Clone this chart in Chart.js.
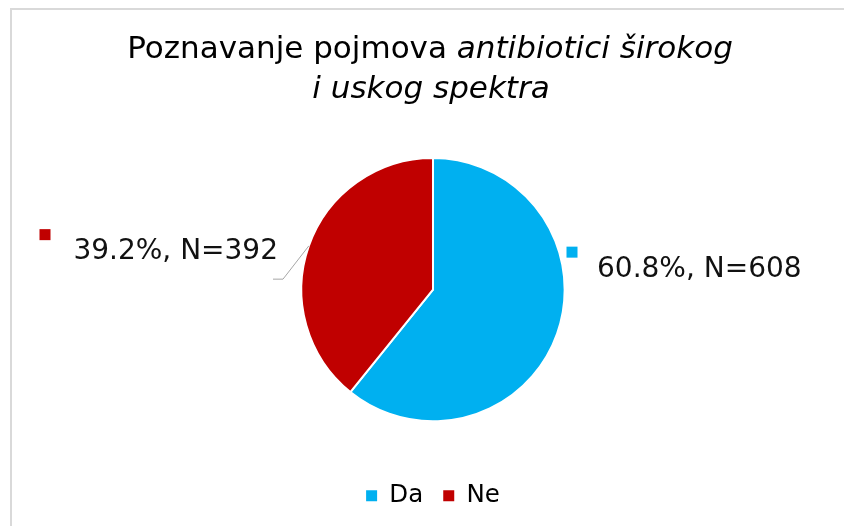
<!DOCTYPE html>
<html><head><meta charset="utf-8">
<script src="https://cdn.jsdelivr.net/npm/chart.js@4"></script>
<style>html,body{margin:0;padding:0;background:#fff}#wrap{width:844px;height:526px;position:relative}</style>
</head><body><div id="wrap"><canvas id="c"></canvas></div>
<script>
const categories = ['Da', 'Ne'];
const counts = [608, 392];
const percents = [60.8, 39.2];
const colors = ['#00B0F0', '#C00000'];
const titleRegular = 'Poznavanje pojmova ';
const titleItalic1 = 'antibiotici širokog';
const titleItalic2 = 'i uskog spektra';

const FONT = '"DejaVu Sans", Verdana, sans-serif';

// label placement relative to the pie centre (style only)
const labelLayout = [
  { marker: [139, -37.5], text: [164, -20], align: 'left' },
  { marker: [-388, -55], text: [-155, -38], align: 'right', leader: [[-160, -11], [-150, -11]] }
];

const framePlugin = {
  id: 'frame',
  beforeDraw(chart) {
    const c = chart.ctx;
    c.save();
    c.strokeStyle = '#d9d9d9';
    c.lineWidth = 2;
    c.strokeRect(11, 9, chart.width + 40, chart.height + 40);
    c.restore();
  }
};

const titlePlugin = {
  id: 'richTitle',
  afterDraw(chart) {
    const c = chart.ctx;
    c.save();
    c.fillStyle = '#000';
    c.textBaseline = 'alphabetic';
    c.textAlign = 'left';
    const reg = '31px ' + FONT;
    const ita = 'italic 31px ' + FONT;
    c.font = reg; const w1 = c.measureText(titleRegular).width;
    c.font = ita; const w2 = c.measureText(titleItalic1).width;
    const cx = 430;
    let x = cx - (w1 + w2) / 2;
    c.font = reg; c.fillText(titleRegular, x, 58);
    c.font = ita; c.fillText(titleItalic1, x + w1, 58);
    const w3 = c.measureText(titleItalic2).width;
    c.fillText(titleItalic2, 431 - w3 / 2, 98);
    c.restore();
  }
};

const labelPlugin = {
  id: 'sliceLabels',
  afterDatasetsDraw(chart) {
    const c = chart.ctx;
    const meta = chart.getDatasetMeta(0);
    meta.data.forEach((arc, i) => {
      const p = arc.getProps(['x', 'y', 'outerRadius', 'startAngle', 'endAngle'], true);
      const L = labelLayout[i];
      c.save();
      if (L.leader) {
        const mid = (p.startAngle + p.endAngle) / 2;
        c.strokeStyle = '#a6a6a6';
        c.lineWidth = 1;
        c.beginPath();
        c.moveTo(p.x + L.leader[0][0], p.y + L.leader[0][1] + 0.5);
        c.lineTo(p.x + L.leader[1][0], p.y + L.leader[1][1] + 0.5);
        c.lineTo(p.x + p.outerRadius * Math.cos(mid), p.y + p.outerRadius * Math.sin(mid));
        c.stroke();
      }
      c.fillStyle = colors[i];
      c.fillRect(p.x + L.marker[0] - 5.5, p.y + L.marker[1] - 5.5, 11, 11);
      c.fillStyle = '#111';
      c.font = '28px ' + FONT;
      c.textAlign = L.align;
      c.textBaseline = 'middle';
      c.fillText(percents[i].toFixed(1) + '%, N=' + counts[i], p.x + L.text[0], p.y + L.text[1]);
      c.restore();
    });
  }
};

new Chart(document.getElementById('c'), {
  type: 'pie',
  data: {
    labels: categories,
    datasets: [{
      data: counts,
      backgroundColor: colors,
      borderColor: '#ffffff',
      borderWidth: 2
    }]
  },
  options: {
    responsive: true,
    maintainAspectRatio: false,
    animation: false,
    events: [],
    layout: { padding: { top: 157, left: 22, right: 0, bottom: 8 } },
    plugins: {
      title: { display: false },
      tooltip: { enabled: false },
      legend: {
        position: 'bottom',
        title: { display: true, text: ' ', font: { size: 1 }, padding: { top: 40, bottom: 0 } },
        labels: {
          font: { family: FONT, size: 24.5 },
          color: '#000',
          boxWidth: 11,
          boxHeight: 11,
          padding: 20,
          generateLabels(chart) {
            const items = Chart.overrides.pie.plugins.legend.labels.generateLabels(chart);
            items.forEach(it => { it.lineWidth = 0; it.strokeStyle = it.fillStyle; });
            return items;
          }
        }
      }
    }
  },
  plugins: [framePlugin, titlePlugin, labelPlugin]
});
</script>
</body></html>
